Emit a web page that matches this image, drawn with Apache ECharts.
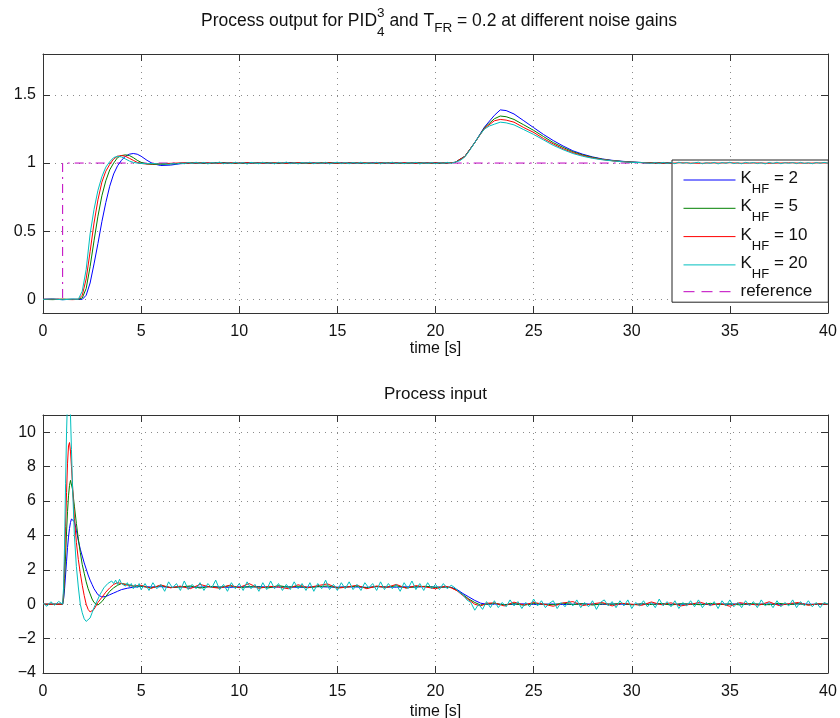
<!DOCTYPE html>
<html><head><meta charset="utf-8">
<script src="https://cdn.jsdelivr.net/npm/echarts@6/dist/echarts.min.js"></script>
<style>html,body{margin:0;padding:0;background:#fff}#c{width:840px;height:718px}</style>
</head><body><div id="c"></div>
<script>
// ---------------- DATA ----------------
const gains = [2, 5, 10, 20];
const xRange = [0, 40];
const xInterval = 5;
const yTopRange = [-0.1, 1.8];
const yTopTicks = [0, 0.5, 1, 1.5];
const yBotRange = [-4, 11];
const yBotTicks = [-4, -2, 0, 2, 4, 6, 8, 10];
const sampleStep = 0.2;

// reference signal (top plot)
const refT = [0, 1, 1, 40];
const refY = [0, 0, 1, 1];

// process output (top plot), shared time grid for K=2,5,10
const tTop = [0, 0.5, 1, 1.5, 1.8,
  2.0, 2.2, 2.4, 2.6, 2.8, 3.0, 3.2, 3.4, 3.6, 3.8, 4.0, 4.2, 4.4, 4.6, 4.8, 5.0,
  5.3, 5.6,
  6.0, 6.5, 7.0, 7.5, 8.0, 8.5, 9.0, 9.5, 10.0, 10.5, 11.0, 11.5, 12.0, 12.5, 13.0, 13.5, 14.0, 14.5, 15.0, 15.5,
  16.0, 16.5, 17.0, 17.5, 18.0, 18.5, 19.0, 19.5, 20.0, 20.5, 21.0, 21.5, 22.0, 22.5, 23.0,
  23.3, 23.6,
  24.0, 24.5, 25.0, 25.5, 26.0, 26.5, 27.0, 27.5, 28.0, 28.5, 29.0, 29.5, 30.0, 30.5, 31.0, 31.5,
  32.0, 32.5, 33.0, 33.5, 34.0, 34.5, 35.0, 35.5, 36.0, 36.5, 37.0, 37.5, 38.0, 38.5, 39.0, 39.5, 40.0];

const yOutK2 = [0, 0.002, -0.002, 0.001, 0,
  0.0, 0.03, 0.12, 0.26, 0.41, 0.57, 0.71, 0.83, 0.92, 0.98, 1.02, 1.05, 1.065, 1.07, 1.065, 1.05,
  1.02, 0.995,
  0.982, 0.985, 0.995, 1.0, 1.0, 0.998, 1.002, 1.0, 0.999, 1.001, 1.0, 1.0, 0.998, 1.002, 1.0, 1.0, 0.999, 1.001, 1.0, 1.0,
  1.0, 0.999, 1.001, 1.0, 1.0, 1.0, 0.999, 1.001, 1.0, 1.0, 1.005, 1.05, 1.15, 1.265, 1.35,
  1.39, 1.385,
  1.36, 1.31, 1.26, 1.21, 1.165, 1.125, 1.09, 1.065, 1.045, 1.03, 1.02, 1.013, 1.008, 1.004, 1.002, 1.0,
  1.0, 0.999, 1.001, 1.0, 1.0, 0.998, 1.002, 1.0, 1.0, 0.999, 1.001, 1.0, 1.0, 1.0, 0.999, 1.001, 1.0];

const yOutK5 = [0, -0.002, 0.002, 0, 0.001,
  0.01, 0.08, 0.24, 0.43, 0.61, 0.76, 0.87, 0.95, 1.0, 1.04, 1.055, 1.06, 1.055, 1.04, 1.02, 1.005,
  0.993, 0.99,
  0.99, 0.994, 0.998, 1.001, 1.0, 0.999, 1.002, 1.0, 0.998, 1.001, 1.0, 1.002, 0.999, 1.0, 1.001, 0.998, 1.0, 1.002, 0.999, 1.0,
  1.001, 1.0, 0.998, 1.002, 1.0, 0.999, 1.001, 1.0, 1.0, 1.0, 1.005, 1.05, 1.15, 1.26, 1.325,
  1.345, 1.34,
  1.32, 1.28, 1.24, 1.195, 1.15, 1.115, 1.083, 1.06, 1.042, 1.028, 1.018, 1.012, 1.007, 1.004, 1.002, 1.0,
  1.001, 0.999, 1.0, 1.002, 0.998, 1.0, 1.001, 1.0, 0.999, 1.002, 1.0, 0.998, 1.001, 1.0, 1.0, 0.999, 1.0];

const yOutK10 = [0, 0.002, 0, -0.002, 0,
  0.03, 0.15, 0.35, 0.56, 0.73, 0.86, 0.94, 0.99, 1.03, 1.05, 1.055, 1.05, 1.035, 1.02, 1.005, 0.997,
  0.993, 0.994,
  0.995, 0.998, 1.001, 0.999, 1.002, 1.0, 0.998, 1.001, 1.0, 1.002, 0.999, 1.0, 1.001, 0.998, 1.002, 1.0, 0.999, 1.001, 1.0, 0.998,
  1.002, 1.0, 0.999, 1.001, 1.0, 1.002, 0.998, 1.0, 1.001, 1.0, 1.005, 1.048, 1.15, 1.255, 1.31,
  1.32, 1.315,
  1.30, 1.26, 1.225, 1.18, 1.14, 1.105, 1.076, 1.055, 1.038, 1.026, 1.017, 1.011, 1.006, 1.003, 1.001, 1.0,
  0.999, 1.002, 1.0, 0.998, 1.001, 1.0, 1.002, 0.999, 1.0, 1.001, 0.998, 1.0, 1.002, 1.0, 0.999, 1.001, 1.0];

// K=20 output: head on tTop, flat parts sampled every 0.2 s, bump with explicit times
const yOutK20Head = [0, 0.003, -0.003, 0.002, 0,
  0.06, 0.22, 0.48, 0.66, 0.8, 0.9, 0.97, 1.01, 1.04, 1.05, 1.045, 1.03, 1.015, 1.005, 1.0, 0.997,
  0.995, 0.997];
const yOutK20Flat1Start = 6.0;
const yOutK20Flat1 = [
  0.992, 0.996, 0.99, 0.997, 0.993, 1.0, 0.995, 1.004, 0.997, 1.006,
  0.998, 1.005, 0.994, 1.003, 0.999, 1.007, 0.995, 1.002, 0.996, 1.006,
  0.997, 1.004, 0.993, 1.005, 1.0, 0.995, 1.006, 0.997, 1.003, 0.994,
  1.005, 0.998, 1.007, 0.996, 1.002, 0.994, 1.004, 0.999, 1.006, 0.995,
  1.003, 0.997, 1.005, 0.994, 1.002, 1.006, 0.996, 1.003, 0.995, 1.004,
  0.998, 1.006, 0.995, 1.002, 0.997, 1.005, 0.994, 1.003, 0.999, 1.006,
  0.996, 1.004, 0.995, 1.003, 0.998, 1.005, 0.994, 1.002, 0.997, 1.004,
  0.995, 1.003, 0.998, 1.005, 0.999];
const tOutK20Bump = [21.0, 21.25, 21.5, 21.75, 22.0, 22.25, 22.5, 22.75, 23.0, 23.3, 23.6, 24.0, 24.5, 25.0, 25.5, 26.0, 26.5, 27.0, 27.5, 28.0, 28.5,
  29.0, 29.5, 30.0, 30.5, 31.0];
const yOutK20Bump = [1.006, 1.018, 1.045, 1.095, 1.15, 1.205, 1.25, 1.272, 1.285, 1.3, 1.295, 1.28, 1.245, 1.21, 1.17, 1.13, 1.098, 1.07, 1.05, 1.035, 1.024,
  1.016, 1.01, 1.005, 1.003, 0.998];
const yOutK20Flat2Start = 31.2;
const yOutK20Flat2 = [
  1.004, 0.996, 1.005, 0.997, 1.003, 0.995, 1.006, 0.998, 1.004, 0.996,
  1.002, 1.006, 0.995, 1.003, 0.997, 1.005, 0.994, 1.004, 0.998, 1.006,
  0.996, 1.003, 0.995, 1.005, 0.999, 1.004, 0.996, 1.002, 0.994, 1.005,
  0.997, 1.006, 0.995, 1.003, 0.998, 1.004, 0.996, 1.005, 0.997, 1.003,
  0.995, 1.004, 0.998, 1.005, 0.999];

// process input (bottom plot), shared grid for K=2,5,10
const tBot = [0, 0.5,
  1.0, 1.05, 1.1, 1.15, 1.2, 1.25, 1.3, 1.35, 1.4, 1.45, 1.5,
  1.6, 1.7, 1.8, 1.9, 2.0, 2.1, 2.2, 2.3, 2.4, 2.5, 2.6,
  2.8, 3.0, 3.2, 3.4, 3.6, 3.8, 4.0,
  4.3, 4.6,
  5.0, 5.5, 6.0, 6.5, 7.0, 7.5, 8.0, 8.5, 9.0, 9.5, 10.0, 10.5, 11.0, 11.5, 12.0, 12.5,
  13.0, 13.5, 14.0, 14.5, 15.0, 15.5, 16.0, 16.5, 17.0, 17.5, 18.0, 18.5, 19.0, 19.5, 20.0, 20.5,
  20.8, 21.1, 21.4, 21.7, 22.0, 22.3, 22.6,
  23.0, 23.5, 24.0, 24.5, 25.0, 25.5, 26.0, 26.5, 27.0, 27.5, 28.0, 28.5, 29.0, 29.5, 30.0, 30.5, 31.0, 31.5,
  32.0, 32.5, 33.0, 33.5, 34.0, 34.5, 35.0, 35.5, 36.0, 36.5, 37.0, 37.5, 38.0, 38.5, 39.0, 39.5, 40.0];

const uInK2 = [0, 0,
  0, 0.3, 0.9, 1.7, 2.5, 3.3, 3.9, 4.4, 4.75, 4.95, 5.0,
  4.8, 4.3, 3.7, 3.2, 2.8, 2.4, 2.05, 1.7, 1.4, 1.15, 0.9,
  0.55, 0.42, 0.45, 0.55, 0.65, 0.75, 0.85,
  0.93, 0.99,
  1.03, 1.0, 1.02, 0.98, 1.01, 1.0, 0.99, 1.02, 1.0, 0.98, 1.01, 1.0, 1.02, 0.99, 1.0, 1.01,
  0.98, 1.0, 1.02, 1.0, 0.99, 1.01, 1.0, 0.98, 1.02, 1.0, 0.99, 1.01, 1.0, 1.02, 0.99, 1.0,
  0.98, 0.85, 0.62, 0.42, 0.22, 0.06, 0.0,
  0.01, -0.02, 0.0, 0.02, -0.01, 0.0, 0.01, -0.02, 0.0, 0.02, 0.0, -0.01, 0.01, 0.0, -0.02, 0.01, 0.0, 0.02,
  -0.01, 0.0, 0.01, 0.0, -0.02, 0.01, 0.0, 0.02, -0.01, 0.0, 0.01, -0.01, 0.0, 0.02, 0.0, -0.01, 0.0];

const uInK5 = [0, 0,
  0, 0.4, 1.5, 2.8, 4.2, 5.4, 6.3, 6.9, 7.2, 7.1, 6.7,
  5.7, 4.7, 3.8, 3.0, 2.3, 1.8, 1.3, 0.9, 0.6, 0.3, 0.1,
  -0.05, 0.15, 0.45, 0.75, 0.95, 1.1, 1.2,
  1.15, 1.05,
  1.05, 0.95, 1.08, 0.97, 1.0, 1.06, 0.94, 1.03, 0.98, 1.07, 0.96, 1.02, 1.0, 0.95, 1.08, 0.99,
  1.04, 0.96, 1.02, 1.06, 0.97, 1.0, 1.05, 0.95, 1.03, 0.99, 1.07, 0.96, 1.01, 1.04, 0.98, 1.0,
  0.97, 0.8, 0.55, 0.3, 0.1, -0.05, 0.0,
  0.05, -0.04, 0.03, -0.06, 0.04, 0.0, -0.03, 0.06, -0.02, 0.03, -0.05, 0.02, 0.0, 0.05, -0.04, 0.02, -0.02, 0.04,
  -0.05, 0.03, 0.0, -0.03, 0.05, -0.02, 0.02, -0.04, 0.04, 0.0, -0.03, 0.05, -0.02, 0.03, -0.04, 0.02, 0.0];

const uInK10 = [0, 0,
  0, 0.7, 2.5, 4.5, 6.5, 8.2, 9.2, 9.4, 8.9, 8.0, 7.0,
  5.0, 3.6, 2.6, 1.8, 1.1, 0.5, 0.0, -0.3, -0.45, -0.45, -0.3,
  0.1, 0.4, 0.7, 0.95, 1.15, 1.25, 1.2,
  1.1, 1.05,
  1.1, 0.92, 1.12, 0.95, 1.05, 0.9, 1.15, 1.0, 0.93, 1.1, 0.97, 1.2, 0.92, 1.04, 1.0, 0.9,
  1.13, 0.96, 1.08, 1.18, 0.93, 1.0, 1.1, 0.9, 1.06, 0.97, 1.15, 0.93, 1.08, 1.0, 0.9, 1.05,
  0.95, 0.78, 0.5, 0.25, 0.0, -0.1, 0.05,
  0.08, -0.1, 0.12, -0.05, 0.1, 0.0, -0.12, 0.07, 0.15, -0.08, 0.02, 0.1, -0.1, 0.05, 0.0, -0.07, 0.13, -0.03,
  0.08, -0.1, 0.0, 0.11, -0.06, 0.04, -0.12, 0.09, 0.0, -0.05, 0.14, -0.08, 0.03, 0.1, -0.06, 0.02, 0.0];

// K=20 input: pre-step samples (every 0.2 s from 0), transient (explicit times), then samples every 0.2 s
const uInK20Pre = [0.05, -0.12, 0.14, -0.06, 0.16, 0.0];
const uInK20TransT = [1.05, 1.1, 1.15, 1.2, 1.25, 1.3, 1.35, 1.4, 1.45, 1.5, 1.6, 1.7, 1.8, 1.9, 2.0, 2.1, 2.2, 2.3, 2.4, 2.5,
  2.6, 2.7, 2.8, 2.9, 3.0, 3.1, 3.2, 3.3, 3.4, 3.5, 3.6, 3.7, 3.8, 3.9, 4.0, 4.1, 4.2, 4.3, 4.4, 4.5, 4.6, 4.7, 4.8, 4.9];
const uInK20TransY = [1.0, 3.5, 7.0, 10.0, 12.0, 13.0, 12.5, 11.0, 9.0, 7.0, 4.0, 2.2, 1.0, 0.0, -0.5, -0.85, -1.0, -1.05, -0.8, -0.5,
  -0.2, 0.05, 0.3, 0.55, 0.75, 0.95, 1.0, 1.2, 1.1, 1.35, 1.2, 1.4, 1.15, 1.45, 1.2, 1.3, 1.05, 1.25, 1.0, 1.2, 0.9, 1.15, 0.95, 1.2];
const uInK20MidStart = 5.0;
const uInK20Mid = [
  0.85, 1.2, 0.8, 1.25, 0.9, 1.15, 0.75, 1.3, 0.95, 1.2,
  0.8, 1.35, 0.85, 1.15, 0.9, 1.25, 0.8, 1.2, 0.95, 1.4,
  0.85, 1.15, 0.75, 1.25, 0.9, 1.2, 0.8, 1.3, 0.9, 1.15,
  0.75, 1.25, 0.85, 1.35, 0.9, 1.2, 0.8, 1.15, 0.85, 1.3,
  0.9, 1.2, 0.8, 1.25, 0.75, 1.2, 0.9, 1.4, 0.85, 1.15,
  0.8, 1.25, 0.9, 1.3, 0.85, 1.15, 0.8, 1.25, 0.95, 1.2,
  0.8, 1.3, 0.85, 1.2, 0.9, 1.15, 0.75, 1.25, 0.9, 1.35,
  0.85, 1.2, 0.8, 1.25, 0.9, 1.15, 0.85, 1.2, 0.9, 1.1];
const uInK20EndStart = 21.0;
const uInK20End = [
  0.95, 0.7, 0.55, 0.25, 0.1, -0.35, 0.0, -0.3, 0.15, -0.2,
  0.2, -0.2, 0.1, -0.15, 0.25, -0.1, 0.15, -0.25, 0.1, -0.15,
  0.3, -0.1, 0.2, -0.2, 0.05, 0.2, -0.25, 0.1, -0.15, 0.2,
  -0.1, 0.25, -0.2, 0.1, -0.15, 0.2, -0.3, 0.1, 0.25, -0.1,
  0.15, -0.2, 0.2, -0.1, 0.25, -0.25, 0.1, -0.1, 0.2, -0.15,
  0.1, -0.2, 0.3, -0.1, 0.15, -0.15, 0.2, -0.25, 0.1, -0.1,
  0.2, -0.15, 0.25, -0.2, 0.1, -0.1, 0.15, -0.25, 0.2, -0.1,
  0.25, -0.15, 0.1, -0.2, 0.2, -0.1, 0.15, -0.2, 0.25, -0.1,
  0.1, -0.2, 0.2, -0.15, 0.1, -0.1, 0.25, -0.2, 0.15, -0.1,
  0.2, -0.15, 0.1, -0.2, 0.1, 0.0];

// ---------------- BUILD ----------------
function check(name, a, n) { if (a.length !== n) throw new Error(name + ' length ' + a.length + ' != ' + n); }
[['yOutK2', yOutK2], ['yOutK5', yOutK5], ['yOutK10', yOutK10]].forEach(([n, a]) => check(n, a, tTop.length));
[['uInK2', uInK2], ['uInK5', uInK5], ['uInK10', uInK10]].forEach(([n, a]) => check(n, a, tBot.length));
check('uInK20TransY', uInK20TransY, uInK20TransT.length);
check('yOutK20Bump', yOutK20Bump, tOutK20Bump.length);

const zip = (t, y) => t.map((v, i) => [v, y[i]]);
const seg = (t0, vals) => vals.map((v, i) => [Math.round((t0 + i * sampleStep) * 100) / 100, v]);

const outK20 = [].concat(zip(tTop.slice(0, yOutK20Head.length), yOutK20Head), seg(yOutK20Flat1Start, yOutK20Flat1),
  zip(tOutK20Bump, yOutK20Bump), seg(yOutK20Flat2Start, yOutK20Flat2));
const outData = [zip(tTop, yOutK2), zip(tTop, yOutK5), zip(tTop, yOutK10), outK20];
const inData = [zip(tBot, uInK2), zip(tBot, uInK5), zip(tBot, uInK10),
  [].concat(seg(0, uInK20Pre), zip(uInK20TransT, uInK20TransY), seg(uInK20MidStart, uInK20Mid), seg(uInK20EndStart, uInK20End))];

const FONT = '"Liberation Sans", Arial, Helvetica, sans-serif';
const colors = ['#0000ff', '#008000', '#ff0000', '#00bfbf'];
const refColor = '#bf00bf';
const axisColor = '#333';
const names = gains.map(g => 'K_HF = ' + g);

const G = [
  { left: 43, top: 54, width: 785, height: 259, containLabel: false, outerBoundsMode: 'none' },
  { left: 43, top: 415, width: 785, height: 258, containLabel: false, outerBoundsMode: 'none' }
];

function xAxes(gi, nameGap) {
  const base = {
    gridIndex: gi, type: 'value', min: xRange[0], max: xRange[1], interval: xInterval,
    axisLine: { show: true, onZero: false, lineStyle: { color: axisColor, width: 1 } },
    axisTick: { show: true, inside: true, length: 7, lineStyle: { color: axisColor } },
  };
  return [
    Object.assign({}, base, {
      position: 'bottom',
      axisLabel: { fontSize: 16, color: '#111', fontFamily: FONT, margin: 11 },
      splitLine: { show: true, lineStyle: { type: [1, 5], color: '#8a8a8a', width: 1 } },
      name: 'time [s]', nameLocation: 'middle', nameGap: nameGap,
      nameTextStyle: { fontSize: 16, color: '#111', fontFamily: FONT }
    }),
    Object.assign({}, base, { position: 'top', axisLabel: { show: false }, splitLine: { show: false } })
  ];
}
function yAxes(gi, range, ticks) {
  const base = {
    gridIndex: gi, type: 'value', min: range[0], max: range[1],
    axisLine: { show: true, onZero: false, lineStyle: { color: axisColor, width: 1 } },
    axisTick: { show: true, inside: true, length: 7, customValues: ticks, lineStyle: { color: axisColor } },
  };
  return [
    Object.assign({}, base, {
      position: 'left',
      axisLabel: { customValues: ticks, fontSize: 16, color: '#111', fontFamily: FONT, margin: 7,
        formatter: v => String(v).replace('-', '\u2212') },
      splitLine: { show: true, lineStyle: { type: [1, 5], color: '#8a8a8a', width: 1 } }
    }),
    Object.assign({}, base, { position: 'right', axisLabel: { show: false }, splitLine: { show: false } })
  ];
}

const series = [];
series.push({
  name: 'reference', type: 'line', xAxisIndex: 0, yAxisIndex: 0, data: zip(refT, refY),
  symbol: 'none', showSymbol: false, z: 1,
  lineStyle: { color: refColor, width: 1, type: [9, 5, 2, 5] }, itemStyle: { color: refColor }
});
names.forEach((n, i) => {
  series.push({
    name: n, type: 'line', xAxisIndex: 0, yAxisIndex: 0, data: outData[i], symbol: 'none', showSymbol: false,
    z: 2 + i, lineStyle: { color: colors[i], width: 1 }, itemStyle: { color: colors[i] }
  });
});
names.forEach((n, i) => {
  series.push({
    name: n, type: 'line', xAxisIndex: 2, yAxisIndex: 2, data: inData[i], symbol: 'none', showSymbol: false,
    z: 2 + i, clip: true, lineStyle: { color: colors[i], width: 1 }, itemStyle: { color: colors[i] }
  });
});

// title pieces laid out with measured text widths
const cv = document.createElement('canvas').getContext('2d');
function tw(s, size) { cv.font = size + 'px ' + FONT; return cv.measureText(s).width; }
const TS = 17.5, SS = 13.5;
const p1 = 'Process output for PID', sp = '3', sb = '4', p2 = ' and T', sb2 = 'FR', p3 = ' = 0.2 at different noise gains';
const wSupSub = Math.max(tw(sp, SS), tw(sb, SS));
const total = tw(p1, TS) + wSupSub + tw(p2, TS) + tw(sb2, SS) + tw(p3, TS);
let cx = 439 - total / 2;
const yMain = 21;
function txt(s, size, x, y, align) {
  return { type: 'text', x: x, y: y, silent: true,
    style: { text: s, fontSize: size, fontFamily: FONT, fill: '#111',
      textAlign: align || 'left', align: align || 'left', textVerticalAlign: 'middle', verticalAlign: 'middle' } };
}
const graphics = [];
graphics.push(txt(p1, TS, cx, yMain)); cx += tw(p1, TS);
graphics.push(txt(sp, SS, cx, 13.5)); graphics.push(txt(sb, SS, cx, 32)); cx += wSupSub;
graphics.push(txt(p2, TS, cx, yMain)); cx += tw(p2, TS);
graphics.push(txt(sb2, SS, cx, 28.5)); cx += tw(sb2, SS);
graphics.push(txt(p3, TS, cx, yMain));
graphics.push(txt('Process input', 17, 435.5, 394, 'center'));

const legendData = names.map(n => ({ name: n })).concat([{ name: 'reference', lineStyle: { type: [11, 7], width: 1 } }]);

const chart = echarts.init(document.getElementById('c'), null, { renderer: 'canvas' });
chart.setOption({
  animation: false,
  backgroundColor: '#fff',
  textStyle: { fontFamily: FONT },
  grid: G,
  xAxis: [].concat(xAxes(0, 26), xAxes(1, 31)),
  yAxis: [].concat(yAxes(0, yTopRange, yTopTicks), yAxes(1, yBotRange, yBotTicks)),
  legend: {
    orient: 'vertical', left: 672, top: 160, data: legendData,
    backgroundColor: '#fff', borderColor: '#222', borderWidth: 1, borderRadius: 0,
    padding: [10, 16, 2, 11], itemGap: 2.3, itemWidth: 52, itemHeight: 14,
    selectedMode: false,
    itemStyle: { opacity: 0, borderWidth: 0 },
    lineStyle: { width: 1 },
    formatter: function (name) {
      if (name.indexOf('K_HF') === 0) return '{k|K}{s|HF}{k| ' + name.slice(5) + '}';
      return '{r|' + name + '}';
    },
    textStyle: {
      fontFamily: FONT, color: '#111', fontSize: 17,
      rich: {
        k: { fontSize: 17, fontFamily: FONT, color: '#111', lineHeight: 20, verticalAlign: 'top' },
        s: { fontSize: 13, fontFamily: FONT, color: '#111', lineHeight: 14, padding: [13, 0, 0, 0], verticalAlign: 'top' },
        r: { fontSize: 17, fontFamily: FONT, color: '#111', lineHeight: 22 }
      }
    }
  },
  graphic: graphics,
  series: series
});
</script></body></html>
